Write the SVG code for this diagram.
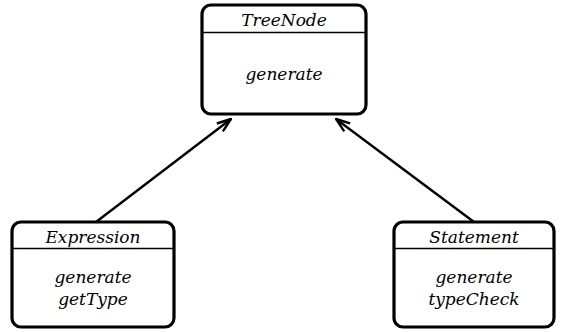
<svg xmlns="http://www.w3.org/2000/svg" width="563" height="332" viewBox="0 0 563 332">
<style>
.box{fill:#fff;stroke:#000;stroke-width:3.2}
.div{stroke:#000;stroke-width:1.6}
.t text{font-family:'DejaVu Serif',serif;font-style:italic;font-size:17px;text-anchor:middle;fill:#000}
.edge{stroke:#000;stroke-width:2.4;fill:none}
</style>
<defs>
<marker id="open" viewBox="0 0 16 12" refX="15" refY="6" markerWidth="16" markerHeight="12" markerUnits="userSpaceOnUse" orient="auto">
<path d="M1,1 L15,6 L1,11" fill="none" stroke="#000" stroke-width="2.4"/>
</marker>
</defs>
<g id="connectors">
<line class="edge" x1="96" y1="222" x2="231" y2="119" marker-end="url(#open)"/>
<line class="edge" x1="474" y1="222" x2="336" y2="119" marker-end="url(#open)"/>
</g>
<g id="TreeNode" class="t">
<rect class="box" x="202" y="5" width="164" height="109" rx="9"/>
<line class="div" x1="202" y1="32.5" x2="366" y2="32.5"/>
<text x="284" y="26">TreeNode</text>
<text x="284" y="80">generate</text>
</g>
<g id="Expression" class="t">
<rect class="box" x="12" y="222" width="162" height="105" rx="9"/>
<line class="div" x1="12" y1="248.5" x2="174" y2="248.5"/>
<text x="93" y="243">Expression</text>
<text x="93" y="283">generate</text>
<text x="93" y="305">getType</text>
</g>
<g id="Statement" class="t">
<rect class="box" x="394" y="222" width="160" height="105" rx="9"/>
<line class="div" x1="394" y1="248.5" x2="554" y2="248.5"/>
<text x="474" y="243">Statement</text>
<text x="474" y="283">generate</text>
<text x="474" y="305">typeCheck</text>
</g>
</svg>
